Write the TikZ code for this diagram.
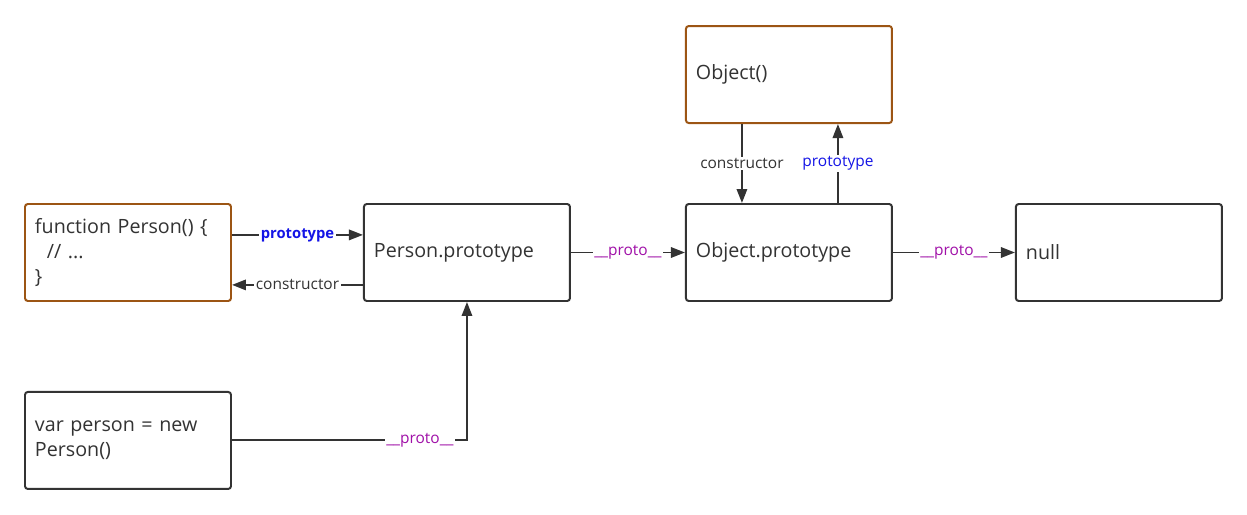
\documentclass[tikz,border=0pt]{standalone}
\usepackage{fontspec}
\setmainfont{Open Sans}
\usepackage{xcolor}
\usetikzlibrary{arrows.meta,positioning}
\definecolor{edge}{HTML}{333333}
\definecolor{fnbrown}{HTML}{9C5514}
\definecolor{protoblue}{HTML}{1414E6}
\definecolor{protopurple}{HTML}{A010A8}

\begin{document}
\begin{tikzpicture}[
  node distance=2.85cm,
  obj/.style={draw=edge, line width=1.4pt, rounded corners=2pt, fill=white, minimum width=5.15cm, minimum height=2.425cm, text width=4.65cm, inner sep=0.25cm, align=left, text=edge, font=\fontsize{14}{18}\selectfont},
  ctor/.style={obj, draw=fnbrown},
  arrow/.style={-{Triangle[length=3.5mm,width=2.6mm]}, line width=1.4pt, draw=edge},
  lbl/.style={fill=white, inner sep=1pt, text=edge, font=\fontsize{11}{13}\selectfont},
  protolbl/.style={lbl, text=protopurple}
]
\useasboundingbox (-3.2,-6.5625) rectangle (27.975,6.3125);
\node[ctor] (person) {function Person() \{\\\hspace*{0.6em}// ...\\\}};
\node[obj, right=3.275cm of person] (pproto) {Person.prototype};
\node[obj, right=of pproto] (oproto) {Object.prototype};
\node[obj, right=3.05cm of oproto] (null) {null};
\node[ctor, above=1.975cm of oproto] (object) {Object()};
\node[obj, below=2.225cm of person] (inst) {var person = new\\Person()};
\draw[arrow] ([yshift=4.4mm]person.east) -- node[lbl, text=protoblue, font=\fontsize{10.5}{12}\selectfont\bfseries] {prototype} ([yshift=4.4mm]pproto.west);
\draw[arrow] ([yshift=-8.1mm]pproto.west) -- node[lbl] {constructor} ([yshift=-8.1mm]person.east);
\draw[arrow] (pproto) -- node[protolbl] {\_\_proto\_\_} (oproto);
\draw[arrow] (oproto) -- node[protolbl] {\_\_proto\_\_} (null);
\draw[arrow] ([xshift=-11.75mm]object.south) -- node[lbl] {constructor} ([xshift=-11.75mm]oproto.north);
\draw[arrow] ([xshift=12.25mm]oproto.north) -- node[lbl, text=protoblue] {prototype} ([xshift=12.25mm]object.south);
\draw[arrow] (inst.east) -| node[protolbl, pos=0.4] {\_\_proto\_\_} (pproto.south);
\end{tikzpicture}
\end{document}
